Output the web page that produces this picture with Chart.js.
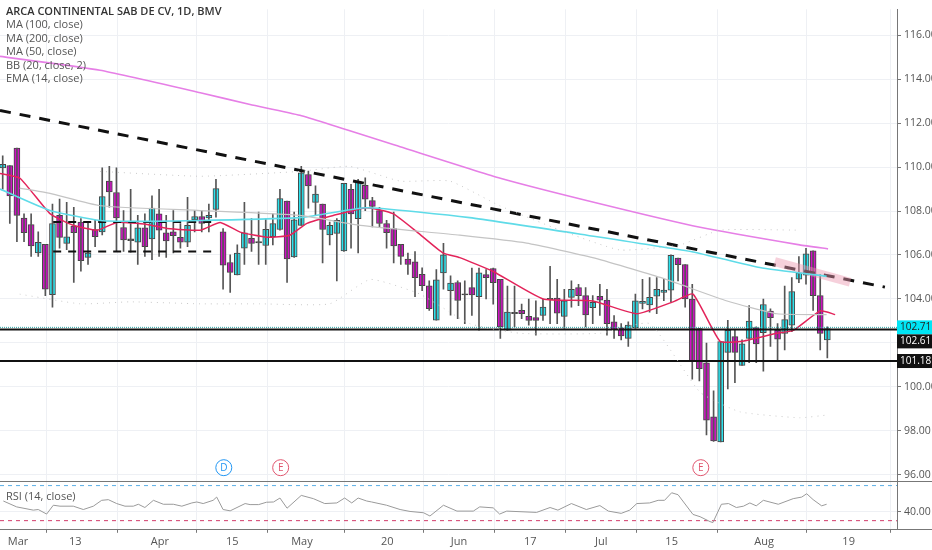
<!DOCTYPE html>
<html><head><meta charset="utf-8">
<script src="https://cdn.jsdelivr.net/npm/chart.js@4/dist/chart.umd.min.js"></script>
<style>
html,body{margin:0;padding:0;background:#fff;}
#wrap{position:relative;width:932px;height:550px;}
#legend{position:absolute;left:6px;top:4px;font-family:"Open Sans",sans-serif;font-size:11px;color:#555;line-height:13.4px;pointer-events:none;}
#legend .t{color:#333;font-weight:600;}
#rsiLbl{position:absolute;left:6px;top:488px;font-family:"Open Sans",sans-serif;font-size:11px;color:#555;}
</style></head><body>
<div id="wrap"><canvas id="c" width="932" height="550"></canvas>
<div id="legend"><div class="t">ARCA CONTINENTAL SAB DE CV, 1D, BMV</div><div>MA (100, close)</div><div>MA (200, close)</div><div>MA (50, close)</div><div>BB (20, close, 2)</div><div>EMA (14, close)</div></div>
<div id="rsiLbl">RSI (14, close)</div></div>
<script>
const open=[109.96,110.06,110.86,107.68,107.38,106.09,106.49,104.20,107.80,106.53,107.32,107.50,105.89,107.16,107.05,109.36,108.84,107.25,106.68,106.58,107.23,106.73,107.87,107.01,107.05,106.80,106.58,107.60,107.75,107.69,108.07,107.05,105.66,105.09,106.31,106.76,106.58,106.43,106.83,107.16,108.45,105.91,107.35,109.66,108.39,108.32,106.91,106.98,106.19,108.99,107.65,109.17,108.47,108.02,107.43,107.20,106.49,105.82,105.69,105.12,104.60,103.04,105.19,104.38,104.75,104.22,104.52,104.10,105.11,105.38,104.89,102.58,103.36,103.48,103.21,103.15,103.25,104.00,104.04,103.21,104.07,104.52,104.15,103.60,104.12,103.95,102.96,102.69,102.21,102.70,103.80,103.73,104.13,104.30,104.40,105.86,105.56,104.00,102.66,101.10,98.64,97.50,101.57,102.29,100.98,102.21,102.70,102.47,103.45,102.58,102.44,102.81,104.90,105.08,106.19,104.15,102.14];
const close=[110.12,108.69,107.80,107.02,106.41,106.58,104.45,107.43,106.80,106.83,107.02,105.74,106.09,106.83,108.66,108.87,107.68,106.68,106.70,107.23,106.38,108.13,107.13,106.64,106.88,106.58,107.35,107.75,107.43,107.80,109.02,105.54,105.21,106.09,107.01,106.53,106.58,107.17,107.43,108.57,105.82,107.60,109.73,109.14,108.77,107.16,107.35,107.58,109.26,107.87,109.36,108.54,108.21,107.43,107.02,106.41,105.94,105.57,104.97,104.60,103.56,104.87,106.01,104.72,103.93,104.20,104.19,105.19,104.97,104.74,102.73,103.40,103.36,103.33,103.03,103.03,103.63,104.00,103.36,103.92,104.44,104.15,103.28,103.85,103.95,102.88,102.61,102.32,102.81,103.92,103.89,104.07,104.44,104.40,105.98,105.56,104.00,101.17,100.83,98.49,97.55,102.06,102.58,101.57,101.96,103.00,101.96,103.75,103.15,102.17,103.06,104.34,105.19,106.05,104.15,102.44,102.66];
const high=[110.51,110.06,110.86,107.87,107.87,107.05,106.49,108.32,108.54,108.39,108.17,107.65,107.50,107.58,109.96,110.03,109.96,108.02,108.99,107.80,107.87,108.69,108.99,107.80,108.02,107.43,108.62,108.02,108.02,108.32,109.44,107.20,106.01,106.46,108.39,107.65,107.95,107.65,107.87,108.99,108.45,107.95,110.03,109.81,109.14,108.32,107.50,107.65,109.26,109.21,109.44,109.51,108.62,108.17,107.58,107.95,106.49,106.09,106.16,105.42,104.82,105.34,106.53,105.05,104.82,104.82,105.41,105.41,105.34,105.41,104.89,104.59,104.59,103.77,104.00,103.92,104.00,105.49,104.89,104.44,104.82,104.67,104.52,104.15,104.67,104.44,103.25,102.88,102.96,104.22,104.89,104.97,104.97,104.89,106.01,105.86,105.56,104.67,102.66,101.99,99.83,102.06,103.03,102.58,102.14,103.70,102.73,104.00,103.55,102.88,104.59,104.97,105.93,106.30,106.19,105.11,102.73];
const low=[108.99,107.43,106.61,106.61,105.94,105.94,104.15,103.63,106.31,106.24,104.75,105.27,105.57,106.38,106.91,108.17,106.16,106.16,106.13,105.57,105.94,105.79,105.94,105.89,106.09,106.31,106.38,107.05,107.05,107.05,107.72,104.45,104.30,105.09,105.57,106.16,105.57,105.57,106.46,107.13,104.75,105.89,107.35,108.13,107.80,105.64,106.46,104.82,106.16,106.31,106.09,108.02,107.28,107.28,106.31,105.64,105.57,105.12,104.11,104.38,103.48,103.04,104.45,103.26,103.11,102.88,103.25,102.58,104.00,103.77,102.21,102.58,102.73,103.11,102.81,102.36,103.03,102.88,102.88,102.66,103.63,103.70,102.73,102.88,103.25,102.36,102.21,102.14,101.84,102.66,103.55,103.40,103.33,103.92,103.85,104.82,103.63,100.35,100.28,97.82,97.52,97.50,99.91,100.20,100.98,101.10,101.10,100.72,101.84,101.17,101.69,102.51,104.74,104.67,103.48,101.69,101.32];

const ma200X=[-0.38,13.7,27.8,34.8,41.8,55.9,70.0,84.0,98.1,112.1,116.1];
const ma200=[115.03,114.4,113.38,112.84,112.35,110.92,109.49,108.33,107.26,106.46,106.28];
const ma100X=[-0.38,6.65,13.7,20.7,27.8,41.8,51.2,65.7,82.2,97.1,106.5,115.9];
const ma100=[109.0,108.02,107.57,107.53,107.57,107.7,108.15,107.7,106.9,106.14,105.43,105.03];
const ma50X=[2.4,6.65,13.7,27.8,41.8,50.3,64.3,73.7,83.0,92.5,101.9,108.9,115.9];
const ma50=[109.04,108.8,108.24,108.02,107.8,107.35,106.9,106.54,105.88,104.98,103.91,103.33,103.29];
const emaX=[-0.38,2.43,6.65,9.89,13.3,16.1,20.3,23.1,27.8,30.6,33.4,37.2,40.4,42.8,46.5,51.2,54.9,58.3,61.9,64.3,69.0,76.0,83.0,89.2,94.3,97.1,100.9,104.1,108.9,111.2,115.0,117.1];
const ema=[109.71,109.49,107.88,107.35,107.13,107.48,107.39,107.21,107.13,107.48,107.04,106.81,106.9,107.44,107.8,108.15,107.88,107.04,106.1,105.88,105.25,104.0,103.91,103.33,103.87,104.22,102.08,102.08,102.44,102.57,103.46,103.29];
const bbUpX=[13.7,27.8,41.8,48.8,55.9,62.9,69.9,78.4,86.8,95.3,100.9,112.1];
const bbUp=[109.8,109.58,109.8,110.03,109.36,109.36,108.24,107.13,106.23,106.46,107.13,107.13];
const bbLoX=[2.4,10.9,17.9,27.8,36.2,46.0,51.7,58.7,65.7,72.8,84.0,91.0,98.1,103.7,112.1,116.1];
const bbLo=[104.22,103.78,103.87,103.78,103.78,103.78,104.89,104.22,102.88,102.44,102.44,102.88,99.76,98.87,98.6,98.73];
const trendX=[-0.38,124.1], trendY=[112.57,104.54];
const rangeX=[7.1,30.2], rangeHi=[107.5,107.5], rangeLo=[106.16,106.16];
const rsiX=[0.09,1.96,4.31,5.0,6.18,7.12,8.06,9.93,11.34,12.75,13.92,14.86,16.03,17.2,18.37,19.08,20.0,21.2,22.6,24.0,25.2,26.6,27.3,28.2,29.6,30.1,31.0,32.0,34.1,34.8,36.0,37.1,38.1,39.0,40.0,42.0,43.7,45.3,47.0,48.1,49.1,50.0,51.2,51.9,54.0,55.9,57.3,59.2,60.1,62.0,63.9,66.2,67.1,69.0,69.9,70.9,75.1,77.0,78.1,80.0,82.1,84.0,85.2,87.0,88.2,89.2,91.0,92.2,93.1,94.1,95.0,97.1,98.1,99.5,99.9,101.1,102.1,103.2,104.2,105.1,106.0,107.0,109.1,111.2,112.4,113.1,114.0,115.2,115.9];
const rsi=[52.4,45.7,42.0,42.7,37.5,47.6,46.5,46.5,42.7,46.5,53.2,53.95,49.5,46.5,46.5,48.7,45.0,53.2,48.7,48.7,46.5,50.2,51.3,49.5,53.2,56.9,42.7,41.2,49.5,48.3,48.3,51.0,51.3,55.8,44.2,58.8,55.1,49.5,50.2,55.8,50.2,55.8,52.4,51.3,47.6,42.7,40.5,39.0,35.3,47.6,40.9,40.9,45.7,44.6,37.5,40.9,39.4,45.0,42.0,49.5,42.7,47.2,40.9,38.3,42.0,49.5,50.2,53.2,53.2,61.8,59.6,37.1,34.5,28.9,27.8,48.7,49.5,45.0,46.5,50.2,46.9,53.2,48.7,55.1,56.9,60.7,54.0,46.9,48.7];
const tickIdx=[2.15,10.2,22.1,32.3,42.1,54.1,64.2,74.2,84.2,94.1,107.1,119.0];
const tickLabels=['Mar','13','Apr','15','May','20','Jun','17','Jul','15','Aug','19'];
const priceTicks=[96,98,100,102,104,106,108,110,112,114,116];
const levelA=102.71, levelB=102.61, levelC=101.18;
const events=[{x:31.1,t:'D',c:'#2196f3'},{x:39.1,t:'E',c:'#e0556e'},{x:98.2,t:'E',c:'#e0556e'}];

const UP='#2be3ee', DN='#d012c4';
const idx=open.map((_,i)=>i);
const pts=(xs,ys)=>xs.map((x,i)=>({x:x,y:ys[i]}));
const XMIN=-0.38, XMAX=125.8;
const bodies=idx.map(i=>{let a=open[i],b=close[i];if(Math.abs(a-b)<0.04){a-=0.03;b+=0.03;}return {x:i,y:[a,b]};});
const bodyCol=idx.map(i=>Math.abs(open[i]-close[i])<0.04?'#333':(close[i]>=open[i]?UP:DN));
const line=(data,color,w,extra)=>Object.assign({type:'line',data:data,borderColor:color,borderWidth:w,pointRadius:0,tension:0.15,yAxisID:'y',fill:false},extra||{});

const plugin={id:'ov',afterDraw(ch){
 const c=ch.ctx,y=ch.scales.y,x=ch.scales.x,ca=ch.chartArea;
 c.save();
 c.strokeStyle='#777';c.lineWidth=1;
 const sep=Math.round(y.bottom)+0.5;
 c.beginPath();c.moveTo(ca.left,sep);c.lineTo(ca.right+35,sep);c.stroke();
 c.beginPath();c.moveTo(ca.left,Math.round(ca.bottom)+0.5);c.lineTo(ca.right+35,Math.round(ca.bottom)+0.5);c.stroke();
 events.forEach(e=>{const px=x.getPixelForValue(e.x),py=y.bottom-13;
  c.beginPath();c.arc(px,py,8,0,Math.PI*2);c.fillStyle='#fff';c.fill();c.strokeStyle=e.c;c.lineWidth=1;c.stroke();
  c.fillStyle=e.c;c.font='10px "Open Sans"';c.textAlign='center';c.textBaseline='middle';c.fillText(e.t,px,py+0.5);});
 const box=(v,py,bg,fg)=>{c.fillStyle=bg;c.fillRect(ca.right,py-7,35,14);c.fillStyle=fg;c.font='10px "Open Sans"';c.textAlign='left';c.textBaseline='middle';c.fillText(v.toFixed(2),ca.right+3,py);};
 const ya=y.getPixelForValue(levelA);
 box(levelA,ya,'#00e5f5','#222');
 box(levelB,ya+14,'#111','#fff');
 box(levelC,y.getPixelForValue(levelC),'#111','#fff');
 c.restore();
}};

new Chart(document.getElementById('c'),{
 type:'bar',
 data:{datasets:[
  line(pts(bbUpX,bbUp),'#c9c9c9',1,{borderDash:[1,5]}),
  line(pts(bbLoX,bbLo),'#c9c9c9',1,{borderDash:[1,5]}),
  line(pts(ma50X,ma50),'#c4c4c4',1.2),
  line(pts(ma200X,ma200),'#e67fe6',1.6),
  line(pts(ma100X,ma100),'#5fdbe8',1.6),
  line([{x:108.6,y:105.70},{x:119.2,y:104.76}],'rgba(236,150,175,0.45)',9,{tension:0}),
  line(pts(trendX,trendY),'#111',3,{borderDash:[11,9],tension:0}),
  line(pts(rangeX,rangeHi),'#111',2,{borderDash:[8,7],tension:0}),
  line(pts(rangeX,rangeLo),'#111',2,{borderDash:[8,7],tension:0}),
  line([{x:XMIN,y:levelA},{x:XMAX,y:levelA}],'#2aa8a8',1,{borderDash:[1,1],tension:0}),
  line([{x:XMIN,y:levelB},{x:XMAX,y:levelB}],'#111',2,{tension:0}),
  line([{x:XMIN,y:levelC},{x:XMAX,y:levelC}],'#111',2,{tension:0}),
  line(pts(emaX,ema),'#e3245a',1.5),
  {type:'bar',data:idx.map(i=>({x:i,y:[low[i],high[i]]})),backgroundColor:'#555',barThickness:1,grouped:false,yAxisID:'y'},
  {type:'bar',data:bodies,backgroundColor:bodyCol,borderColor:'#444',borderWidth:1,borderSkipped:false,barThickness:6,grouped:false,yAxisID:'y'},
  line(pts(rsiX,rsi),'#9a9a9a',1,{yAxisID:'yr',tension:0}),
  line([{x:XMIN,y:70},{x:XMAX,y:70}],'#5aaee6',1,{yAxisID:'yr',borderDash:[4,4],tension:0}),
  line([{x:XMIN,y:30},{x:XMAX,y:30}],'#d23c6a',1,{yAxisID:'yr',borderDash:[4,4],tension:0})
 ]},
 options:{responsive:false,animation:false,
  layout:{padding:0},
  plugins:{legend:{display:false},tooltip:{enabled:false}},
  scales:{
   x:{type:'linear',min:XMIN,max:XMAX,offset:false,
     afterBuildTicks:s=>{s.ticks=tickIdx.map(v=>({value:v}));},
     ticks:{callback:(v,i)=>tickLabels[i],color:'#555',font:{size:11,family:'Open Sans'},maxRotation:0,autoSkip:false,padding:2},
     grid:{color:'#eef0f4',tickLength:4,tickColor:'#777'},border:{display:false}},
   y:{type:'linear',axis:'y',position:'right',stack:'s',stackWeight:480,min:95.74,max:117.17,offset:false,
     afterBuildTicks:s=>{s.ticks=priceTicks.map(v=>({value:v}));},
     afterFit:s=>{s.width=35;},
     ticks:{callback:v=>v.toFixed(2),color:'#555',font:{size:10.5,family:'Open Sans'},padding:3},
     grid:{color:'#eef0f4',tickLength:4,tickColor:'#777'},border:{color:'#777'}},
   yr:{type:'linear',axis:'y',position:'right',stack:'s',stackWeight:49,min:20.7,max:75.6,offset:false,
     afterBuildTicks:s=>{s.ticks=[{value:40}];},
     afterFit:s=>{s.width=35;},
     ticks:{callback:v=>v.toFixed(2),color:'#555',font:{size:10.5,family:'Open Sans'},padding:3},
     grid:{color:'#eef0f4',tickLength:4,tickColor:'#777'},border:{color:'#777'}}
  }},
 plugins:[plugin]
});
</script></body></html>
